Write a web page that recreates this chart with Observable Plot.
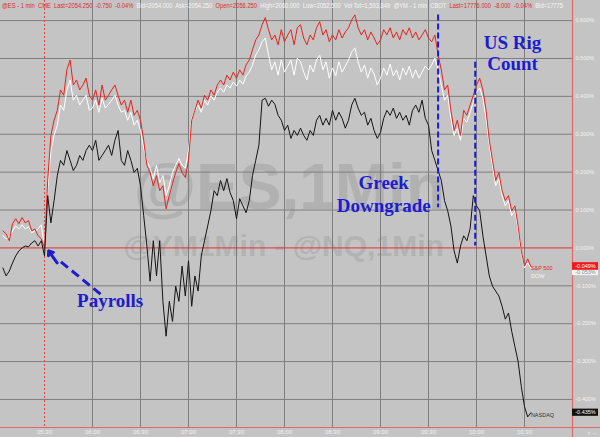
<!DOCTYPE html>
<html><head><meta charset="utf-8">
<script src="https://cdn.jsdelivr.net/npm/d3@7"></script>
<script src="https://cdn.jsdelivr.net/npm/@observablehq/plot@0.6"></script>
<style>
html,body{margin:0;padding:0;background:#c4c4c4;overflow:hidden;}
</style>
</head><body><div id="chart"></div>
<script>
// sampling grid: minutes after midnight (chart clock), 2-minute samples from 05:04
const sampleStart = 304;
const sampleStep = 2;

// % change
const sp500 = [0.045,0.037,0.019,0.064,0.077,0.064,0.080,0.066,0.072,0.045,0.050,0.032,0.024,
0.000,0.178,0.297,0.337,0.363,0.417,0.403,0.470,0.496,0.430,0.443,0.417,0.430,0.448,0.403,0.390,0.417,0.377,0.430,0.390,0.403,0.417,0.430,0.403,0.377,0.390,0.358,0.390,0.350,0.363,0.337,
0.284,0.218,0.199,0.164,0.191,0.151,0.164,0.103,0.138,0.170,0.199,0.223,0.199,0.186,0.231,
0.337,0.363,0.390,0.369,0.403,0.390,0.417,0.403,0.430,0.443,0.430,0.456,0.443,0.464,0.448,0.470,0.456,0.483,0.496,0.523,0.549,0.562,
0.589,0.608,0.576,0.549,0.562,0.536,0.576,0.544,0.562,0.576,0.536,0.581,0.589,0.554,0.536,0.562,0.549,0.581,0.597,0.562,0.576,0.544,0.562,0.549,0.576,0.554,0.570,0.581,0.602,0.615,0.581,0.562,0.576,0.549,0.570,0.554,0.536,0.549,0.576,0.562,0.581,0.554,0.570,0.549,0.576,0.562,0.581,0.554,0.570,0.549,0.562,0.576,0.554,0.544,0.562,
0.509,0.470,0.417,0.430,0.363,0.310,0.337,0.297,0.363,0.350,0.377,0.403,0.430,0.448,0.417,0.363,0.284,0.231,0.178,0.199,0.151,0.125,0.138,0.098,0.111,0.058,-0.008,-0.048,-0.029,-0.049];

const dow = [0.032,0.024,0.029,0.045,0.058,0.050,0.061,0.050,0.056,0.040,0.045,0.050,0.061,
0.005,0.151,0.257,0.297,0.324,0.377,0.363,0.417,0.443,0.390,0.403,0.377,0.390,0.403,0.363,0.369,0.390,0.358,0.395,0.369,0.379,0.390,0.403,0.377,0.358,0.363,0.337,0.358,0.324,0.337,0.310,
0.263,0.231,0.210,0.183,0.218,0.172,0.191,0.138,0.164,0.199,0.218,0.236,0.218,0.210,0.257,
0.342,0.363,0.377,0.358,0.390,0.377,0.401,0.390,0.411,0.422,0.411,0.430,0.422,0.438,0.427,0.443,0.432,0.454,0.464,0.483,0.509,0.523,
0.544,0.554,0.509,0.470,0.491,0.456,0.496,0.464,0.480,0.496,0.456,0.501,0.491,0.464,0.443,0.483,0.464,0.496,0.509,0.470,0.491,0.448,0.475,0.454,0.491,0.464,0.480,0.496,0.517,0.528,0.491,0.464,0.483,0.448,0.475,0.459,0.430,0.448,0.475,0.456,0.485,0.454,0.470,0.443,0.475,0.456,0.480,0.448,0.470,0.448,0.464,0.480,0.470,0.483,0.501,
0.470,0.430,0.390,0.403,0.342,0.297,0.316,0.284,0.342,0.332,0.358,0.385,0.411,0.422,0.395,0.342,0.271,0.218,0.164,0.183,0.138,0.111,0.125,0.085,0.098,0.050,-0.013,-0.053,-0.040,-0.053];

const nasdaq = [-0.053,-0.074,-0.061,-0.040,-0.021,-0.008,0.000,0.005,0.003,0.013,0.019,0.005,0.019,
-0.021,0.138,0.066,0.125,0.191,0.231,0.218,0.257,0.231,0.204,0.218,0.244,0.231,0.257,0.271,0.257,0.284,0.231,0.244,0.257,0.271,0.244,0.284,0.310,0.231,0.218,0.257,0.231,0.199,0.210,0.164,
0.085,0.005,-0.088,0.019,-0.074,0.019,-0.141,-0.233,-0.141,-0.194,-0.101,-0.141,-0.048,-0.127,-0.034,-0.154,-0.074,-0.114,-0.021,0.019,0.058,0.098,0.151,0.138,0.178,0.151,0.183,0.146,0.125,0.077,0.130,0.111,0.093,0.125,0.191,0.231,0.271,
0.390,0.395,0.374,0.390,0.379,0.350,0.337,0.310,0.324,0.289,0.310,0.297,0.316,0.297,0.284,0.310,0.297,0.337,0.350,0.324,0.342,0.324,0.363,0.337,0.358,0.342,0.316,0.337,0.377,0.395,0.369,0.350,0.358,0.324,0.342,0.310,0.289,0.305,0.342,0.363,0.350,0.369,0.342,0.358,0.337,0.350,0.324,0.363,0.377,0.358,0.390,0.342,0.324,0.257,0.231,
0.204,0.178,0.125,0.098,0.058,-0.008,-0.040,0.005,0.032,0.019,0.050,0.138,0.111,0.098,0.032,-0.021,-0.074,-0.101,-0.114,-0.127,-0.154,-0.188,-0.172,-0.220,-0.260,-0.300,-0.366,-0.419,-0.446,-0.435];

const seriesNames = ["DOW", "S&P 500", "NASDAQ"];
const yTicks = [0.6, 0.5, 0.4, 0.3, 0.2, 0.1, 0, -0.1, -0.2, -0.3, -0.4];
const xTicks = [330, 360, 390, 420, 450, 480, 510, 540, 570, 600, 630];
const xTickLabels = ["05:30","06:00","06:30","07:00","07:30","08:00","08:30","09:00","09:30","10:00","10:30"];
const xDomain = [302.5, 660];
const yDomain = [-0.474, 0.653];

const watermarkText = ["@ES,1Min", "@YM1Min - @NQ,1Min"];
const watermarkAt = [{t: 483, v: 0.158}, {t: 479.5, v: 0.005}];

const eventLabels = [
  {t: 371, v: -0.140, label: "Payrolls"},
  {t: 542, v: 0.172, label: "Greek"},
  {t: 542, v: 0.110, label: "Downgrade"},
  {t: 622.5, v: 0.541, label: "US Rig"},
  {t: 622.5, v: 0.485, label: "Count"}
];
const eventLines = [{t: 576, top: 0.615, bottom: 0.106}, {t: 599.2, top: 0.490, bottom: 0.005}];
const payrollTime = 330;
const arrowTail = {t: 365, v: -0.122};
const arrowNeck = {t: 339.4, v: -0.034};
const arrowTip = {t: 332.6, v: -0.008};

const headerParts = [
  ["@ES - 1 min  CME  Last=2054.250  -0.750  -0.04%  ", "red"],
  ["Bid=2054.000  Ask=2054.250  ", "white"],
  ["Open=2056.250  ", "red"],
  ["High=2060.000  Low=2052.500  Vol Tot=1,593,849  @YM - 1 min  CBOT  ", "white"],
  ["Last=17776.000  -8.000  -0.04%  ", "red"],
  ["Bid=17775", "white"]
];

// ---------- build ----------
const RED = "#e8221c", WHITE = "#ffffff", BLACK = "#141414", BLUE = "#1c1cd0", GRID = "#7e7e7e";
const rowsOf = (vals) => vals.map((v, i) => ({t: sampleStart + i * sampleStep, v}));
const series = [
  {name: seriesNames[0], rows: rowsOf(dow), stroke: WHITE, tag: "#f4f4f4", tagText: "#888", labelFill: "#f4f4f4", labelDy: 8, tagDy: 4},
  {name: seriesNames[1], rows: rowsOf(sp500), stroke: RED, tag: "#ee1c1c", tagText: "#ffffff", labelFill: RED, labelDy: 2, tagDy: 0},
  {name: seriesNames[2], rows: rowsOf(nasdaq), stroke: BLACK, tag: "#111111", tagText: "#ffffff", labelFill: "#333", labelDy: 3, tagDy: 0}
];
const fmtPct = d => d.toFixed(3) + "%";

const marks = [
  Plot.text([watermarkAt[0]], {x: "t", y: "v", text: () => watermarkText[0], fontSize: 64, fontWeight: "bold", fill: "#b1b1b1", textAnchor: "middle", lineAnchor: "middle"}),
  Plot.text([watermarkAt[1]], {x: "t", y: "v", text: () => watermarkText[1], fontSize: 30, fontWeight: "bold", fill: "#b3b3b3", textAnchor: "middle", lineAnchor: "middle"}),
  Plot.gridY(yTicks.filter(d => d !== 0), {stroke: GRID, strokeOpacity: 1, strokeWidth: 1}),
  Plot.gridX(xTicks.filter(d => d !== payrollTime), {stroke: GRID, strokeOpacity: 1, strokeWidth: 1}),
  Plot.ruleY([0], {stroke: "#e23030", strokeWidth: 1}),
  Plot.ruleX([payrollTime], {stroke: "#e04848", strokeDasharray: "2,2", strokeWidth: 1})
];
for (const s of series) {
  marks.push(Plot.line(s.rows, {x: "t", y: "v", stroke: s.stroke, strokeWidth: 1}));
}
marks.push(
  Plot.ruleX(eventLines, {x: "t", y1: "top", y2: "bottom", stroke: BLUE, strokeWidth: 2, strokeDasharray: "6,3"}),
  Plot.link([0], {x1: () => arrowTail.t, y1: () => arrowTail.v, x2: () => arrowNeck.t, y2: () => arrowNeck.v, stroke: BLUE, strokeWidth: 3, strokeDasharray: "9,5"}),
  Plot.arrow([0], {x1: () => arrowNeck.t - 1.5, y1: () => arrowNeck.v - 0.0055, x2: () => arrowTip.t, y2: () => arrowTip.v, stroke: BLUE, strokeWidth: 3, headLength: 14, headAngle: 75}),
  Plot.text(eventLabels, {x: "t", y: "v", text: "label", fill: BLUE, fontSize: 19, fontWeight: "bold", fontFamily: "'Liberation Serif', 'Times New Roman', serif", textAnchor: "middle", lineAnchor: "middle"}),
  Plot.axisY(yTicks, {anchor: "right", tickSize: 0, tickPadding: 3, tickFormat: fmtPct, color: "#f2f2f2", fontSize: 5.5}),
  Plot.axisX(xTicks, {anchor: "bottom", tickSize: 0, tickPadding: 2, tickFormat: d => xTickLabels[xTicks.indexOf(d)], color: "#f2f2f2", fontSize: 6}),
  Plot.ruleX([xDomain[1]], {stroke: "#e06868", strokeWidth: 1.2, insetBottom: -10}),
  Plot.ruleY([yDomain[0]], {stroke: "#e06868", strokeWidth: 1.2, insetRight: -28})
);
for (const s of series) {
  const last = s.rows[s.rows.length - 1];
  marks.push(
    Plot.rect([last], {x1: () => xDomain[1], x2: () => xDomain[1], y1: "v", y2: "v", insetLeft: 0, insetRight: -26, insetTop: -3.6 + s.tagDy, insetBottom: -3.6 - s.tagDy, fill: s.tag}),
    Plot.text([last], {x: () => xDomain[1], y: "v", text: d => fmtPct(d.v), dx: 13, dy: s.tagDy, fill: s.tagText, fontSize: 5.5, textAnchor: "middle"}),
    Plot.text([last], {x: "t", y: "v", text: () => s.name, dx: 0, dy: s.labelDy, fill: s.labelFill, fontSize: 5.5, textAnchor: "start"})
  );
}
// redraw the S&P tag on top of the DOW tag
{
  const s = series[1], last = s.rows[s.rows.length - 1];
  marks.push(
    Plot.rect([last], {x1: () => xDomain[1], x2: () => xDomain[1], y1: "v", y2: "v", insetLeft: 0, insetRight: -26, insetTop: -3.6, insetBottom: -3.6, fill: s.tag}),
    Plot.text([last], {x: () => xDomain[1], y: "v", text: d => fmtPct(d.v), dx: 13, fill: s.tagText, fontSize: 5.5, textAnchor: "middle"})
  );
}

const plot = Plot.plot({
  width: 600, height: 437,
  marginLeft: 0, marginRight: 28, marginTop: 0, marginBottom: 10,
  x: {domain: xDomain, axis: null},
  y: {domain: yDomain, axis: null},
  style: {background: "#c4c4c4", fontFamily: "'Liberation Sans', Arial, sans-serif", overflow: "visible"},
  marks
});

// header strip of quote text
const svg = d3.select(plot);
const header = svg.append("text")
  .attr("x", 2).attr("y", 8)
  .attr("text-anchor", "start")
  .attr("font-size", 6.5)
  .attr("font-family", "'Liberation Sans', Arial, sans-serif")
  .attr("textLength", 561).attr("lengthAdjust", "spacingAndGlyphs")
  .style("white-space", "pre");
for (const [txt, c] of headerParts) {
  header.append("tspan").attr("fill", c === "red" ? "#e02a2a" : "#f6f6f6").text(txt);
}
document.getElementById("chart").appendChild(plot);
</script>
</body></html>
